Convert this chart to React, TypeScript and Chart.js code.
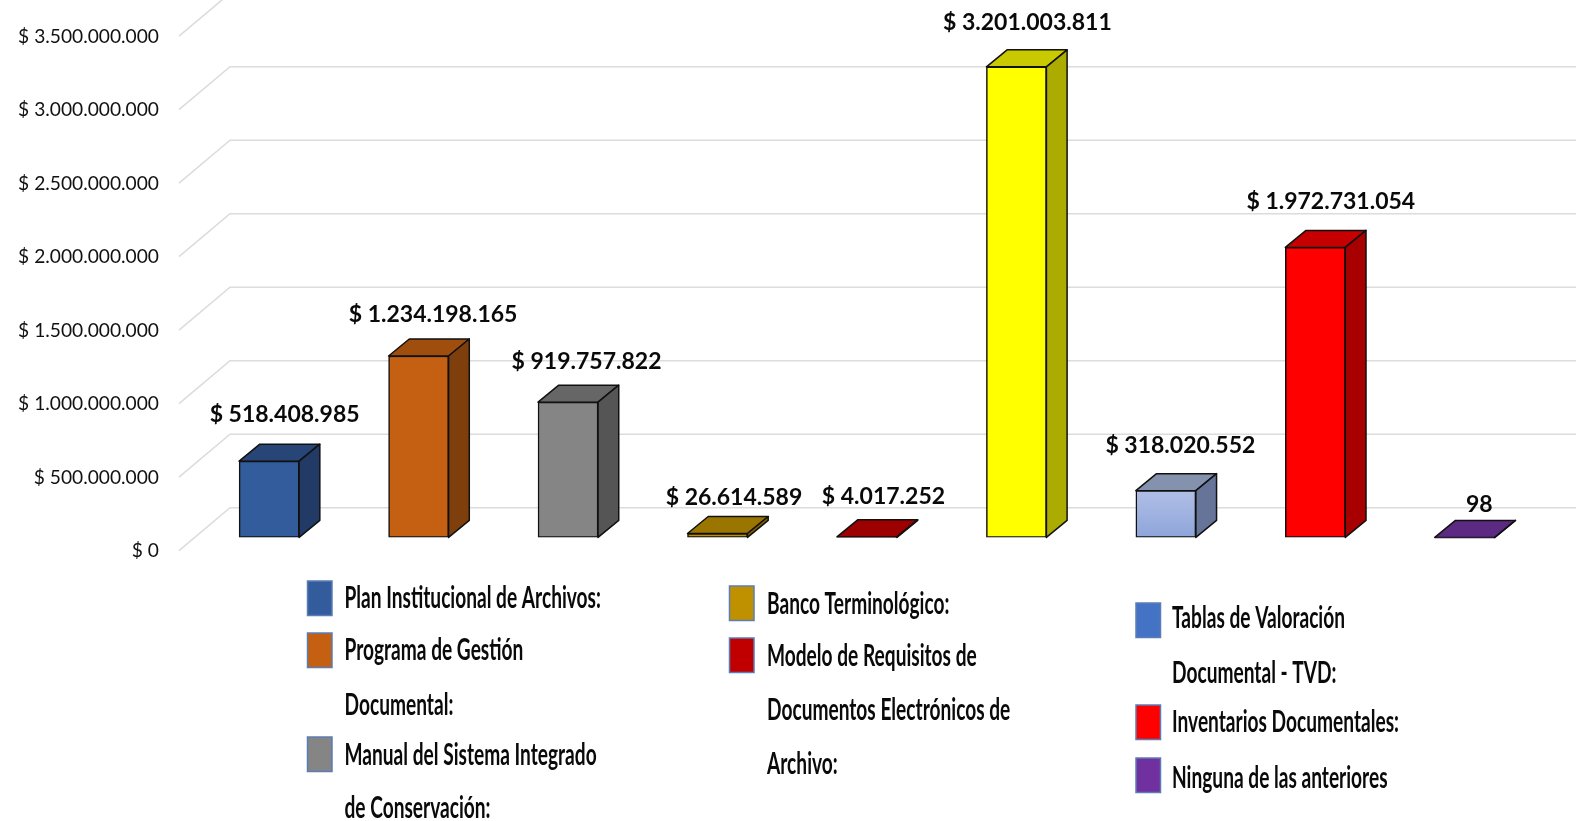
import React, { useEffect, useRef } from "react";
import { Chart, registerables } from "chart.js";

Chart.register(...registerables);

const categories = [
  "Plan Institucional de Archivos:",
  "Programa de Gestión Documental:",
  "Manual del Sistema Integrado de Conservación:",
  "Banco Terminológico:",
  "Modelo de Requisitos de Documentos Electrónicos de Archivo:",
  "",
  "Tablas de Valoración Documental - TVD:",
  "Inventarios Documentales:",
  "Ninguna de las anteriores",
];
const values = [518408985, 1234198165, 919757822, 26614589, 4017252, 3201003811, 318020552, 1972731054, 98];
const valueLabels = [
  "$ 518.408.985", "$ 1.234.198.165", "$ 919.757.822", "$ 26.614.589", "$ 4.017.252",
  "$ 3.201.003.811", "$ 318.020.552", "$ 1.972.731.054", "98",
];
const frontColors = ["#335C9C", "#C55F12", "#858585", "#BF9000", "#C00000", "#FFFF00", "#A3B4E0", "#FF0000", "#7030A0"];
const topColors = ["#274576", "#A04E0E", "#666666", "#9A7600", "#9C0000", "#C9C900", "#8592AE", "#C60000", "#5C2A82"];
const sideColors = ["#213A66", "#7F3F0C", "#555555", "#7F6000", "#800000", "#ABAB00", "#66749A", "#A80000", "#4E2470"];
const labelShiftX = [15.5, 14.5, 18.5, 16.5, 16.5, 11, 14.5, 15.5, 14.5];
const labelShiftY = [-46.5, -41.2, -40.5, -36, -40.4, -44.6, -45.5, -46, -33];

const legendColumns = [
  {
    swatchX: 307.5, textX: 344.5,
    items: [
      { color: "#335C9C", swatchY: 581, lines: [["Plan Institucional de Archivos:", 598]] },
      { color: "#C55F12", swatchY: 633, lines: [["Programa de Gestión", 650], ["Documental:", 704.5]] },
      { color: "#858585", swatchY: 737, lines: [["Manual del Sistema Integrado", 754.5], ["de Conservación:", 808]] },
    ],
  },
  {
    swatchX: 729.5, textX: 767,
    items: [
      { color: "#BF9000", swatchY: 586, lines: [["Banco Terminológico:", 604]] },
      { color: "#C00000", swatchY: 638, lines: [["Modelo de Requisitos de", 656], ["Documentos Electrónicos de", 710], ["Archivo:", 764]] },
    ],
  },
  {
    swatchX: 1136, textX: 1172,
    items: [
      { color: "#4472C4", swatchY: 603, lines: [["Tablas de Valoración", 618], ["Documental - TVD:", 673]] },
      { color: "#FF0000", swatchY: 705, lines: [["Inventarios Documentales:", 722]] },
      { color: "#7030A0", swatchY: 758, lines: [["Ninguna de las anteriores", 778]] },
    ],
  },
];

const barDepth = { x: 20.7, y: -17 };
const wall = { frontX: 179, backX: 230, endX: 1576, frontDy: 13.3, backDy: -29.7 };

const depthPlugin = {
  id: "depth",
  beforeDatasetsDraw(chart: any) {
    const { ctx, scales } = chart;
    ctx.save();
    ctx.strokeStyle = "#DCDCDC";
    ctx.lineWidth = 1.6;
    for (const t of scales.y.ticks) {
      const p = scales.y.getPixelForValue(t.value);
      ctx.beginPath();
      ctx.moveTo(wall.frontX, p + wall.frontDy);
      ctx.lineTo(wall.backX, p + wall.backDy);
      ctx.lineTo(wall.endX, p + wall.backDy);
      ctx.stroke();
    }
    const meta = chart.getDatasetMeta(0);
    meta.data.forEach((bar: any, i: number) => {
      const l = bar.x - bar.width / 2;
      const r = bar.x + bar.width / 2;
      const top = bar.y;
      const base = bar.base;
      ctx.strokeStyle = "#111111";
      ctx.lineWidth = 1.5;
      ctx.lineJoin = "round";
      ctx.fillStyle = topColors[i];
      ctx.beginPath();
      ctx.moveTo(l, top);
      ctx.lineTo(l + barDepth.x, top + barDepth.y);
      ctx.lineTo(r + barDepth.x, top + barDepth.y);
      ctx.lineTo(r, top);
      ctx.closePath();
      ctx.fill();
      ctx.stroke();
      ctx.fillStyle = sideColors[i];
      ctx.beginPath();
      ctx.moveTo(r, top);
      ctx.lineTo(r + barDepth.x, top + barDepth.y);
      ctx.lineTo(r + barDepth.x, base + barDepth.y);
      ctx.lineTo(r, base);
      ctx.closePath();
      ctx.fill();
      ctx.stroke();
    });
    ctx.restore();
  },
  afterDatasetsDraw(chart: any) {
    const { ctx } = chart;
    ctx.save();
    ctx.fillStyle = "#0A0A0A";
    ctx.textAlign = "center";
    ctx.textBaseline = "middle";
    ctx.font = "bold 23px Lato";
    const meta = chart.getDatasetMeta(0);
    meta.data.forEach((bar: any, i: number) => {
      ctx.fillText(valueLabels[i], bar.x + labelShiftX[i], bar.y + labelShiftY[i]);
    });
    ctx.restore();
  },
  afterDraw(chart: any) {
    const { ctx } = chart;
    ctx.save();
    ctx.textAlign = "left";
    ctx.textBaseline = "middle";
    for (const col of legendColumns) {
      for (const item of col.items) {
        ctx.fillStyle = item.color;
        ctx.strokeStyle = "#5B7DB5";
        ctx.lineWidth = 1.5;
        ctx.fillRect(col.swatchX, item.swatchY, 24.5, 34.5);
        ctx.strokeRect(col.swatchX, item.swatchY, 24.5, 34.5);
        ctx.fillStyle = "#0A0A0A";
        ctx.font = "bold 31px Lato";
        for (const [text, y] of item.lines as any[]) {
          ctx.save();
          ctx.translate(col.textX, y);
          ctx.scale(0.617, 1);
          ctx.fillText(text, 0, 0);
          ctx.restore();
        }
      }
    }
    ctx.restore();
  },
};

export default function App() {
  const ref = useRef<HTMLCanvasElement>(null);
  useEffect(() => {
    const chart = new Chart(ref.current as HTMLCanvasElement, {
      type: "bar",
      data: {
        labels: categories,
        datasets: [
          {
            data: values,
            barThickness: 60,
            borderWidth: 1.5,
            borderSkipped: false,
            borderColor: "#111111",
            backgroundColor: (c: any) => {
              if (c.dataIndex === 6 && c.chart.ctx) {
                const g = c.chart.ctx.createLinearGradient(0, 490, 0, 537);
                g.addColorStop(0, "#B1BFE6");
                g.addColorStop(1, "#8EA5DA");
                return g;
              }
              return frontColors[c.dataIndex];
            },
          },
        ],
      },
      options: {
        responsive: false,
        animation: false,
        layout: { padding: { top: 22.9, bottom: 283.6, right: 44.5, left: 0 } },
        plugins: { legend: { display: false }, tooltip: { enabled: false }, title: { display: false } },
        scales: {
          x: { display: false, offset: true, grid: { display: false } },
          y: {
            min: 0,
            max: 3500000000,
            afterFit: (s: any) => {
              s.width = 194.4;
              s.paddingTop = 0;
              s.paddingBottom = 0;
            },
            border: { display: false },
            grid: { display: false, drawTicks: false },
            ticks: {
              stepSize: 500000000,
              padding: 35.4,
              labelOffset: 13.8,
              color: "#111111",
              font: { family: "Lato", size: 19.2 },
              callback: (v: any) => "$ " + Number(v).toLocaleString("de-DE"),
            },
          },
        },
      },
      plugins: [depthPlugin],
    } as any);
    return () => chart.destroy();
  }, []);
  return (
    <canvas
      ref={ref}
      width={1584}
      height={821}
      style={{ position: "fixed", left: 0, top: 0, width: 1584, height: 821, background: "#FFFFFF" }}
    />
  );
}
